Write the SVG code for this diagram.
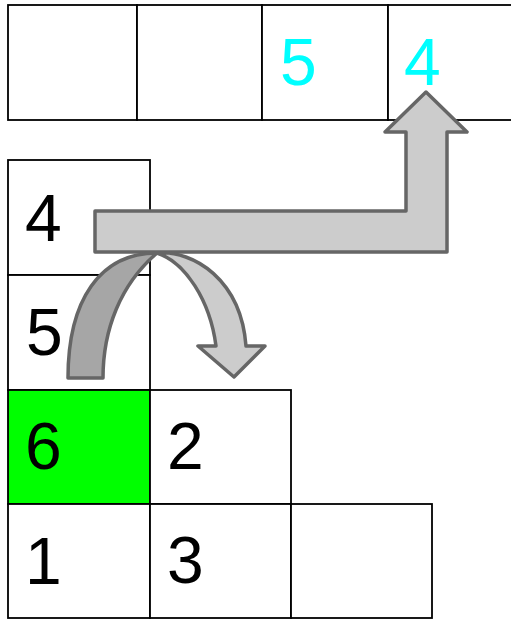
<svg xmlns="http://www.w3.org/2000/svg" width="511" height="620" viewBox="0 0 511 620">
<style>
.cell{fill:#ffffff;stroke:#000000;stroke-width:1.8}
.green{fill:#00ff00}
.t{font-family:"Liberation Sans",Arial,sans-serif;font-size:66px;fill:#000000}
.cy{fill:#00ffff}
.arr{stroke:#666666;stroke-width:3.5;stroke-linejoin:round}
.light{fill:#cccccc}
.dark{fill:#a6a6a6}
</style>
<rect width="511" height="620" fill="#ffffff"/>
<g id="top-row">
<rect class="cell" x="8" y="5" width="129" height="115"/>
<rect class="cell" x="137" y="5" width="125" height="115"/>
<rect class="cell" x="262" y="5" width="126" height="115"/>
<rect class="cell" x="388" y="5" width="130" height="115"/>
<text class="t cy" x="280" y="85">5</text>
<text class="t cy" x="404" y="85">4</text>
</g>
<g id="cell-4"><rect class="cell" x="8" y="160" width="142" height="115"/><text class="t" x="25" y="241">4</text></g>
<g id="cell-5"><rect class="cell" x="8" y="275" width="142" height="115"/><text class="t" x="26" y="355">5</text></g>
<g id="cell-6"><rect class="cell green" x="8" y="390" width="142" height="114"/><text class="t" x="25" y="469">6</text></g>
<g id="cell-2"><rect class="cell" x="150" y="390" width="141" height="114"/><text class="t" x="167" y="469">2</text></g>
<g id="cell-1"><rect class="cell" x="8" y="504" width="142" height="114"/><text class="t" x="25" y="584">1</text></g>
<g id="cell-3"><rect class="cell" x="150" y="504" width="141" height="114"/><text class="t" x="167" y="583">3</text></g>
<g id="cell-empty"><rect class="cell" x="291" y="504" width="141" height="114"/></g>
<g id="connectors">
<path class="arr light" d="M95,211 L406,211 L406,132 L385,132 L426,92 L467,132 L447,132 L447,252 L95,252 Z"/>
<path class="arr dark" d="M68,378 C68,300 100,253 157,253 C120,285 103,330 103,378 Z"/>
<path class="arr light" d="M157,253 C194,250 241,280 246,346 L265,346 L234,377 L198,346 L216,346 C210,300 185,262 157,253 Z"/>
</g>
</svg>
